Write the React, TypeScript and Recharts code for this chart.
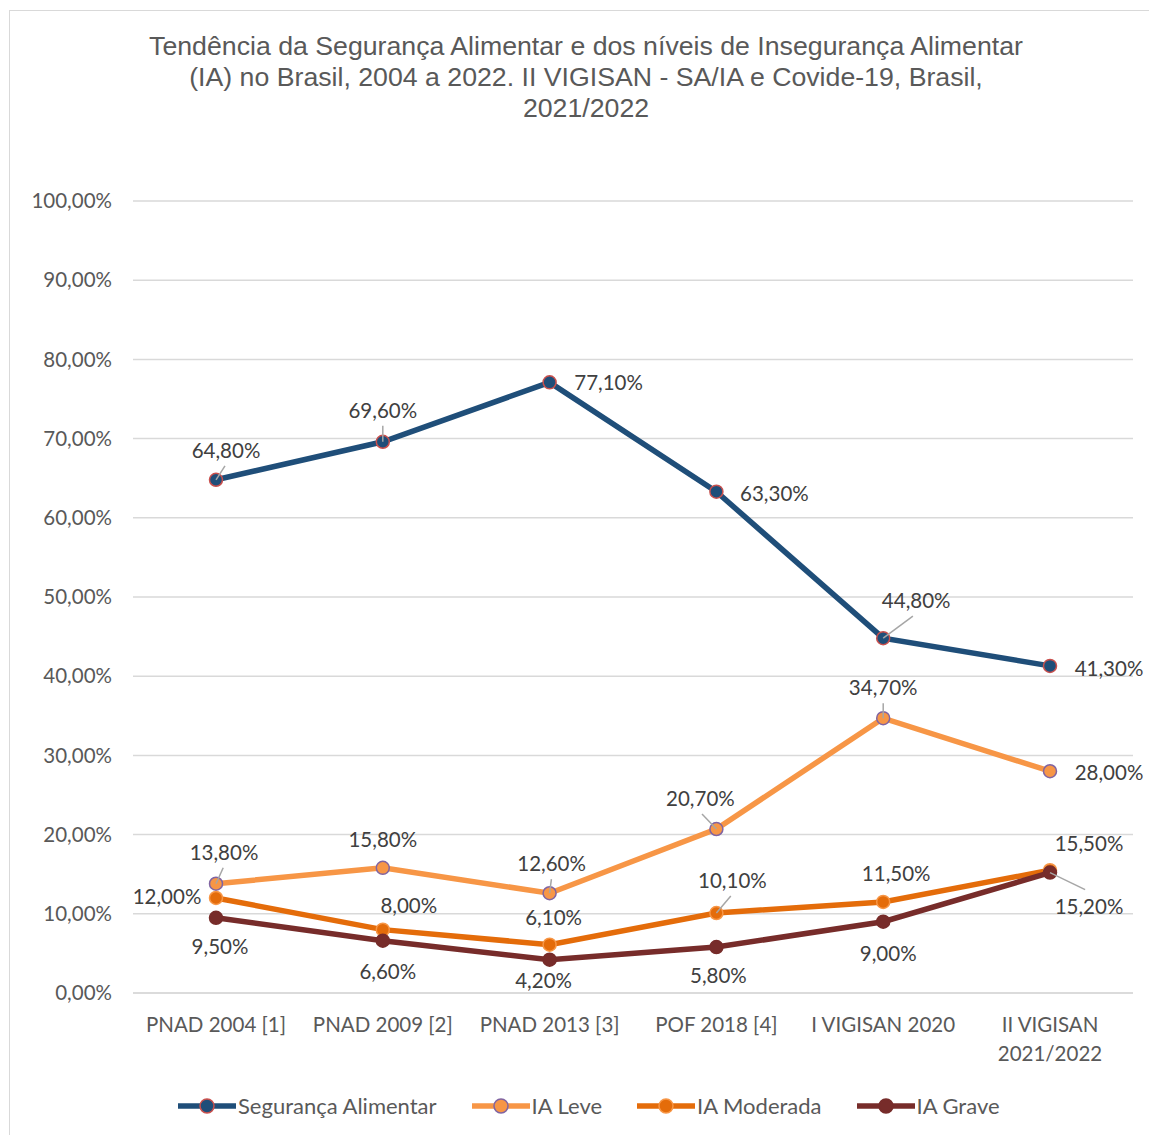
import { LineChart, Line, XAxis, YAxis, CartesianGrid, LabelList } from "recharts"

const categories = [
  "PNAD 2004 [1]",
  "PNAD 2009 [2]",
  "PNAD 2013 [3]",
  "POF 2018 [4]",
  "I VIGISAN 2020",
  "II VIGISAN 2021/2022",
]

const seguranca = [64.8, 69.6, 77.1, 63.3, 44.8, 41.3]
const iaLeve = [13.8, 15.8, 12.6, 20.7, 34.7, 28.0]
const iaModerada = [12.0, 8.0, 6.1, 10.1, 11.5, 15.5]
const iaGrave = [9.5, 6.6, 4.2, 5.8, 9.0, 15.2]

const yTicks = [0, 10, 20, 30, 40, 50, 60, 70, 80, 90, 100]

const TITLE = [
  "Tendência da Segurança Alimentar e dos níveis de Insegurança Alimentar",
  "(IA) no Brasil, 2004 a 2022. II VIGISAN - SA/IA e Covide-19, Brasil,",
  "2021/2022",
]

// label placement: [dx, dy, leader] relative to the point, label centre
type Place = [number, number, boolean]
const PLACE: Record<string, Place[]> = {
  sa: [[10, -30, true], [0, -32, true], [59, 0, false], [58, 1, false], [33, -38, true], [59, 2, false]],
  leve: [[8, -32, true], [0, -29, false], [2, -30, true], [-16, -31, true], [0, -31, true], [59, 1, false]],
  mod: [[-49, -2, false], [26, -25, false], [4, -28, false], [16, -33, true], [13, -29, false], [39, -27, false]],
  grave: [[4, 28, false], [5, 30, false], [-6, 20, false], [2, 28, false], [5, 31, false], [39, 33, true]],
}

const fmt = (v: number) => v.toFixed(2).replace(".", ",") + "%"

const FONT = "Lato, 'Open Sans', sans-serif"
const FS = 20.5

const SERIES = [
  { key: "sa", name: "Segurança Alimentar", values: seguranca, color: "#1F4E79", stroke: "#C9504D" },
  { key: "leve", name: "IA Leve", values: iaLeve, color: "#F79646", stroke: "#8064A2" },
  { key: "mod", name: "IA Moderada", values: iaModerada, color: "#E46C0A", stroke: "#F79646" },
  { key: "grave", name: "IA Grave", values: iaGrave, color: "#772C2A", stroke: "#772C2A" },
]

const data = categories.map((c, i) => {
  const row: Record<string, string | number> = { cat: c }
  for (const s of SERIES) row[s.key] = s.values[i]
  return row
})

function makeLabel(key: string) {
  return (props: any) => {
    const { x, y, value, index } = props
    const [dx, dy, leader] = PLACE[key][index]
    const cx = x + dx
    const cy = y + dy
    return (
      <g>
        {leader && (
          <line x1={x} y1={y} x2={cx - dx * 0.1} y2={cy + (dy < 0 ? 16 : -16)} stroke="#A6A6A6" strokeWidth={1.5} />
        )}
        <text x={cx} y={cy} textAnchor="middle" dominantBaseline="central" fontSize={FS} fill="#404040" fontFamily={FONT}>
          {fmt(Number(value))}
        </text>
      </g>
    )
  }
}

function XTick(props: any) {
  const { x, y, payload } = props
  const label: string = payload.value
  let lines = [label]
  if (label.length > 15) {
    const at = label.lastIndexOf(" ")
    lines = [label.slice(0, at), label.slice(at + 1)]
  }
  return (
    <text x={x} y={y + 31} textAnchor="middle" fontSize={FS} fill="#595959" fontFamily={FONT}>
      {lines.map((l, i) => (
        <tspan key={i} x={x} dy={i === 0 ? 0 : 29}>
          {l}
        </tspan>
      ))}
    </text>
  )
}

function LegendSwatch({ color, stroke }: { color: string; stroke: string }) {
  return (
    <svg width={58} height={18} style={{ flexShrink: 0, marginRight: 2 }}>
      <line x1={1} y1={9} x2={57} y2={9} stroke={color} strokeWidth={5.5} strokeLinecap="round" />
      <circle cx={29} cy={9} r={7} fill={color} stroke={stroke} strokeWidth={1.5} />
    </svg>
  )
}

export default function App() {
  return (
    <div style={{ position: "absolute", left: 0, top: 0, width: 1149, height: 1135, background: "#fff", overflow: "hidden" }}>
      <div
        style={{
          position: "absolute",
          left: 9,
          top: 10,
          width: 1160,
          height: 1140,
          border: "1px solid #D9D9D9",
        }}
      />
      <div
        style={{
          position: "absolute",
          left: 0,
          top: 31,
          width: 1172,
          textAlign: "center",
          fontFamily: "'Liberation Sans', Arial, sans-serif",
          fontSize: 26.7,
          lineHeight: "31px",
          color: "#595959",
        }}
      >
        {TITLE.map((t) => (
          <div key={t}>{t}</div>
        ))}
      </div>
      <div style={{ position: "absolute", left: 0, top: 0 }}>
        <LineChart width={1149} height={1135} data={data} margin={{ top: 201, right: 16, bottom: 82, left: 10 }}>
          <CartesianGrid vertical={false} stroke="#D9D9D9" strokeWidth={1.5} />
          <XAxis
            dataKey="cat"
            height={60}
            padding={{ left: 83, right: 83 }}
            axisLine={{ stroke: "#D9D9D9", strokeWidth: 1.5 }}
            tickLine={false}
            tick={<XTick />}
            interval={0}
          />
          <YAxis
            width={123}
            domain={[0, 100]}
            ticks={yTicks}
            axisLine={false}
            tickLine={false}
            tickFormatter={fmt}
            tick={{ fontSize: FS, fill: "#595959", fontFamily: FONT, dx: -13 }}
          />
          {SERIES.map((s) => (
            <Line
              key={s.key}
              dataKey={s.key}
              name={s.name}
              stroke={s.color}
              strokeWidth={5.5}
              isAnimationActive={false}
              dot={{ r: 6.5, fill: s.color, stroke: s.stroke, strokeWidth: 1.5 }}
              activeDot={false}
            >
              <LabelList dataKey={s.key} content={makeLabel(s.key)} />
            </Line>
          ))}
        </LineChart>
      </div>
      <div
        style={{
          position: "absolute",
          left: 178,
          top: 1093,
          display: "flex",
          gap: 35,
          whiteSpace: "nowrap",
          fontFamily: FONT,
          fontSize: 22,
          lineHeight: "26px",
          color: "#595959",
        }}
      >
        {SERIES.map((s) => (
          <div key={s.key} style={{ display: "flex", alignItems: "center" }}>
            <LegendSwatch color={s.color} stroke={s.stroke} />
            <span>{s.name}</span>
          </div>
        ))}
      </div>
    </div>
  )
}
